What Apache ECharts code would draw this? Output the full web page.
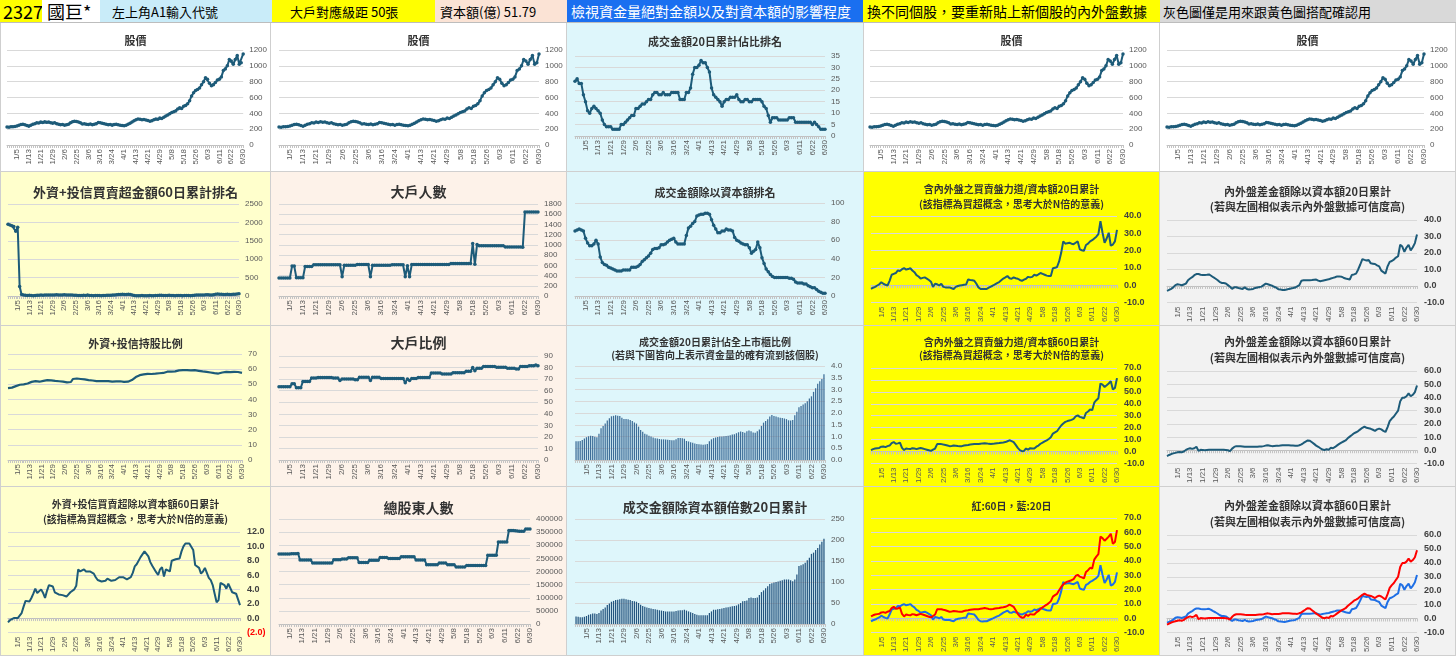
<!DOCTYPE html>
<html><head><meta charset="utf-8">
<script src="https://cdn.jsdelivr.net/npm/echarts@6.0.0/dist/echarts.min.js"></script>
<style>
body{margin:0;width:1456px;height:656px;overflow:hidden;background:#fff;position:relative;font-family:"Noto Sans CJK TC",sans-serif}
.h{position:absolute;top:0;height:23px;line-height:23px;white-space:nowrap;overflow:hidden;box-sizing:border-box;border-bottom:1px solid #bdbdbd}
.p{position:absolute;box-sizing:border-box;border-right:1px solid #cfcfcf;border-bottom:1px solid #cfcfcf}
</style></head><body>
<script>
const dates = ("12/26 12/29 12/30 12/31 1/2 1/5 1/6 1/7 1/8 1/9 1/12 1/13 1/14 1/15 1/16 1/19 1/20 1/21 1/22 1/23 1/26 1/27 1/28 1/29 1/30 " +
"2/2 2/3 2/4 2/5 2/6 2/9 2/10 2/11 2/23 2/24 2/25 2/26 3/2 3/3 3/4 3/5 3/6 3/9 3/10 3/11 3/12 3/13 3/16 3/17 3/18 3/19 3/20 3/23 3/24 " +
"3/25 3/26 3/27 3/30 3/31 4/1 4/2 4/7 4/8 4/9 4/10 4/13 4/14 4/15 4/16 4/17 4/20 4/21 4/22 4/23 4/24 4/27 4/28 4/29 4/30 5/4 5/5 5/6 5/7 5/8 " +
"5/11 5/12 5/13 5/14 5/15 5/18 5/19 5/20 5/21 5/22 5/25 5/26 5/27 5/28 5/29 6/1 6/2 6/3 6/4 6/5 6/8 6/9 6/10 6/11 6/12 6/15 6/16 6/17 6/18 " +
"6/22 6/23 6/24 6/25 6/26 6/29 6/30").split(' ');

// 股價
const price = [228,225,232,230,235,
240,250,258,262,255,245, 238,250,262,270,282,278, 290,285,295,288,292,280, 275,282,270,262,255,258,
250,255,262,280,295,300, 298,290,280,265,270,262, 258,265,255,262,270,285, 280,275,268,262,255,258,
250,258,262,255,250,245, 242,250,262,275,290,305, 320,330,325,318,322,315, 310,300,305,318,330,325,
340,335,350,365,380,395, 410,420,430,455,470,460, 490,500,520,560,620,660, 690,700,720,760,800,850,
830,780,750,760,790,820, 830,860,940,960,1000,1080, 1060,1020,1080,1130,1020,1040, 1150];
// 成交金額20日累計佔比排名
const rank20 = [24,25,23,23,18,
15,11,10,12,13,12, 11,10,7,5,4,4, 4,3,3,3,3,5, 5,6,7,8,9,9,
12,12,13,14,14,15, 16,16,18,19,19,18, 18,19,18,18,18,19, 19,19,19,16,16,16,
19,19,21,27,30,30, 31,33,32,32,30,28, 21,18,17,16,15,13, 15,16,16,17,17,17,
18,16,15,15,16,16, 15,15,16,16,16,16, 15,13,12,9,6,8, 8,8,7,7,7,7,
7,8,8,8,6,6, 6,6,6,6,6,6, 5,6,5,4,3,3, 3];
// 外資+投信買賣超金額60日累計排名
const rank60 = [1950,1930,1910,1890,1760,
1870,260,40,25,20,15, 20,15,10,12,18,20, 25,22,28,30,25,28, 30,28,32,30,28,30,
32,30,28,30,25,22, 18,15,12,15,18,15, 30,15,12,10,12,15, 12,10,12,15,18,20,
22,25,28,35,40,42, 45,42,40,45,38,30, 15,10,8,10,12,10, 8,10,12,10,8,12,
15,18,20,15,12,15, 18,15,12,10,12,15, 12,10,12,15,12,10, 15,20,25,30,28,25,
30,35,32,28,30,35, 45,55,50,45,40,42, 45,40,42,45,50,55, 60];
// 大戶人數
const bigCount = [350,352,352,352,352,
352,585,585,355,355,355, 355,575,575,578,578,612, 612,612,612,612,612,612, 612,612,612,612,612,612,
378,600,600,600,600,600, 600,615,615,615,615,615, 615,378,600,600,600,600, 600,600,600,600,600,612,
612,612,612,612,612,378, 590,378,615,615,615,615, 615,615,615,615,615,615, 615,615,615,615,615,615,
615,615,635,635,635,635, 635,635,635,635,635,635, 1025,620,1010,985,985,985, 985,985,985,985,985,985,
985,985,985,960,960,960, 960,960,960,960,960,955, 1645,1645,1645,1645,1645,1645, 1645];
// 成交金額除以資本額排名
const capRank = [70,71,72,71,70,
62,57,54,54,56,60, 56,42,36,34,33,31, 30,29,28,27,27,27, 28,28,28,28,31,31,
31,32,34,37,39,41, 43,46,50,51,51,52, 55,55,56,58,60,61, 62,58,56,56,56,56,
65,73,75,78,80,86, 87,88,88,89,89,88, 82,76,72,68,68,70, 70,72,71,71,70,63,
60,59,57,56,55,55, 52,46,48,50,58,52, 41,35,29,26,23,21, 20,20,20,20,20,20,
20,19,19,18,15,14, 14,14,13,13,11,10, 9,9,7,5,4,3, 3];
// 含內外盤之買賣盤力道/資本額20日累計
const force20 = [-2.2,-1.5,-1.0,-0.2,0.5,
1.7,0.8,0.2,-0.2,2.5,6.0, 6.5,7.0,8.5,8.2,9.2,9.8, 9.0,9.3,9.8,8.5,7.5,5.8, 5.0,3.8,4.2,4.5,3.8,3.0,
2.0,-1.0,0.8,0.5,-0.2,0.8, -1.0,-1.3,-1.3,-1.3,-1.8,-2.2, -1.0,-0.5,-0.2,0.0,0.2,0.3, 3.3,3.0,2.8,2.5,0.8,-1.3,
-2.2,-2.3,-2.2,-2.2,-1.5,-0.8, -0.2,0.5,1.2,1.8,2.8,3.8, 4.5,5.3,4.0,3.7,4.5,4.0, 3.7,3.0,2.5,3.2,3.7,4.8,
4.5,4.8,6.0,5.5,6.2,7.0, 6.5,6.0,5.5,5.3,5.3,9.8, 10.0,10.5,13.7,18.7,25.3,24.0, 24.3,24.5,24.0,23.7,24.5,25.3,
20.7,20.2,19.8,23.2,24.0,25.3, 26.0,27.0,28.0,29.5,37.0,30.3, 24.5,27.0,30.3,22.8,23.5,25.3, 32.0];
// 內外盤差金額除以資本額20日累計
const diff20 = [-3.0,-2.4,-1.8,-0.8,0.5,
1.0,0.8,0.4,0.9,1.4,3.5, 4.5,5.3,6.5,7.2,7.2,6.8, 6.7,6.7,6.8,7.0,6.2,5.3, 4.5,3.6,2.5,1.8,1.8,1.5,
0.5,-0.5,-1.8,-0.8,-0.8,-1.2, -1.5,-1.8,-0.9,-1.8,-2.1,-2.0, -1.8,-1.2,-0.9,-0.7,-0.4,0.5, 1.4,1.0,0.6,0.2,-0.5,-1.0,
-2.0,-2.2,-2.4,-2.5,-2.2,-1.8, -1.5,-1.3,-1.0,-0.2,0.5,3.2, 3.4,3.5,3.5,3.5,3.6,3.8, 3.9,3.2,2.8,3.2,3.5,3.8,
4.0,4.5,4.9,5.3,5.8,5.8, 5.6,5.0,4.5,4.2,3.9,6.7, 7.0,7.5,10.0,13.0,16.3,15.8, 15.4,15.8,13.7,13.5,13.3,12.5,
11.9,9.3,8.4,7.5,11.9,14.6, 15.1,16.0,17.2,18.0,25.0,23.9, 20.7,23.3,25.0,21.6,23.5,26.0, 31.2];
// 外資+投信持股比例
const holdPct = [47.5,47.5,47.8,48.3,48.8,
49.3,49.7,49.9,49.9,49.9,50.5, 51.2,51.6,51.8,52.1,52.0,51.7, 51.6,52.2,52.7,52.7,52.7,52.6, 52.4,52.2,52.1,52.0,51.9,51.8,
51.6,51.3,50.9,51.5,53.5,53.8, 53.8,53.7,53.5,53.3,53.2,53.0, 52.8,52.7,52.5,52.3,52.1,52.1, 52.1,52.0,52.1,52.1,52.1,52.0,
51.7,51.6,51.9,52.1,52.0,51.8, 51.6,51.6,51.7,52.2,52.8,54.0, 54.8,55.5,56.0,56.3,56.5,56.6, 56.9,56.8,56.8,56.9,57.0,57.1,
57.3,57.4,57.5,57.8,58.3,58.6, 58.4,58.2,58.5,59.0,59.2,59.3, 59.3,59.3,59.3,59.3,59.2,59.2, 59.3,59.1,58.9,58.6,58.5,58.3,
58.2,58.0,57.8,57.6,57.4,57.2, 57.1,57.3,57.8,58.1,58.2,58.1, 58.0,58.2,58.2,58.0,58.1,57.9, 57.5];
// 大戶比例
const bigPct = [63.3,63.3,63.3,63.3,63.3,
63.3,66,66,62.5,62.5,62.5, 68,68,68,68,71,71, 71,71.5,71.5,71.5,71.5,71.5, 71.5,71.5,71,71,71,68.8,
70.2,70.2,70.2,70.2,70.2,70.2, 69.4,69.4,71.6,71.6,71.6,71.6, 71.6,68.8,71.6,71.6,71.6,71.6, 70.5,70.5,70.5,70.5,70.5,70.5,
70.5,70.5,70.5,70.5,70.5,66.8, 70.2,68.8,70.5,70.5,70.5,71.3, 71.3,71.3,71.3,71.3,71.3,75.3, 75.3,75.3,75.3,75.3,74.5,74.5,
74.5,74.5,74.5,75.5,75.5,75.5, 75.5,75.5,75.5,76.7,76.7,76.7, 80,77.2,79.5,79.5,79.5,81, 81,81,81,81,81,80.3,
80.3,80.3,80.3,80.3,79.5,79.5, 79.5,79.5,78.7,78.7,81,81, 81,81,81.5,81.5,81.5,82.2, 81.5];
// 成交金額20日累計佔全上市櫃比例
const share20 = [0.80,0.80,0.81,0.85,0.92,
0.97,1.01,1.03,1.02,0.99,0.97, 1.12,1.35,1.45,1.55,1.68,1.78, 1.86,1.88,1.90,1.88,1.87,1.80, 1.75,1.74,1.73,1.70,1.66,1.60,
1.55,1.42,1.28,1.20,1.12,1.08, 1.03,1.00,0.96,0.93,0.91,0.89, 0.88,0.88,0.87,0.86,0.85,0.84, 0.84,0.88,0.94,0.94,0.93,0.90,
0.81,0.79,0.76,0.73,0.70,0.68, 0.67,0.66,0.65,0.66,0.68,0.80, 0.88,0.93,0.96,0.98,1.00,1.00, 1.01,1.02,1.03,1.05,1.08,1.10,
1.14,1.18,1.21,1.19,1.16,1.22, 1.26,1.22,1.17,1.16,1.22,1.30, 1.45,1.59,1.66,1.73,1.85,1.91, 1.87,1.85,1.82,1.80,1.79,1.77,
1.74,1.69,1.68,1.70,1.90,2.05, 2.25,2.30,2.36,2.42,2.50,2.62, 2.71,2.90,3.05,3.25,3.35,3.45, 3.65];
// 含內外盤之買賣盤力道/資本額60日累計
const force60 = [1.2,2.0,2.5,2.8,3.0,
4.0,4.2,3.7,4.5,5.0,7.0, 7.9,6.5,6.8,7.4,3.0,1.2, 2.5,2.2,2.0,2.8,2.5,2.0, 2.5,3.0,2.5,2.0,1.5,1.0,
0.5,1.5,2.5,6.2,6.2,6.2, 5.8,5.5,5.0,4.5,4.7,5.0, 4.8,4.6,4.5,4.5,5.0,5.3, 5.5,5.8,6.0,6.2,6.2,6.2,
6.5,6.8,7.0,6.8,6.4,6.2, 6.4,6.7,6.9,7.1,7.4,7.6, 7.9,8.6,9.4,8.7,7.9,5.5, 3.0,1.2,0.3,0.5,2.5,1.5,
2.8,2.6,2.5,4.0,5.0,6.5, 7.5,8.5,9.4,10.5,11.9,15.0, 16.1,17.0,19.5,21.8,23.5,24.8, 25.5,26.0,26.5,27.3,29.5,30.3,
29.0,28.5,27.8,32.3,33.5,35.2, 34.7,40.9,43.0,44.7,57.0,56.0, 54.1,55.5,57.0,59.0,52.0,53.3, 61.5];
// 內外盤差金額除以資本額60日累計
const diff60 = [-4.4,-3.6,-2.9,-2.4,-2.0,
-1.6,-1.3,-1.6,-1.0,0.2,1.0, 1.5,1.0,1.5,2.6,-0.5,0.3, 0.2,0.0,0.2,0.4,0.4,0.3, 0.4,0.4,0.4,0.4,0.3,0.2,
0.0,-0.7,1.2,2.5,3.1,3.1, 3.0,2.9,2.7,2.6,2.6,2.6, 2.6,2.6,2.7,2.8,2.9,3.1, 3.5,3.7,3.4,3.1,3.2,3.3,
3.3,3.5,3.7,3.7,3.7,3.7, 3.6,3.5,3.4,3.3,3.8,4.4, 5.5,6.5,7.4,7.2,6.0,4.8, 3.5,2.6,1.5,0.5,0.2,0.8,
0.4,1.8,1.5,2.5,3.7,4.8, 5.8,6.6,7.4,9.0,10.3,11.5, 12.8,13.6,14.5,15.8,17.0,17.9, 17.0,16.6,16.2,15.5,14.7,15.8,
16.4,15.8,14.7,13.8,17.5,22.0, 24.0,25.5,27.8,30.0,37.0,39.8, 39.8,40.9,43.1,40.9,42.0,44.0, 49.0];
// 外資+投信買賣超除以資本額60日累計
const inst60 = [-0.6,-0.3,-0.1,0.0,0.0,
0.0,0.2,0.7,1.6,2.4,2.4, 2.3,2.8,3.4,4.1,3.5,3.6, 4.0,3.5,2.8,3.8,4.6,4.5, 4.4,3.6,3.8,3.3,3.3,3.2,
3.1,3.0,3.0,3.6,3.8,4.0, 4.5,6.8,6.5,6.7,6.8,6.5, 6.4,6.5,6.4,6.2,5.7,5.3, 5.1,5.1,5.1,5.2,5.5,5.4,
5.2,5.1,5.3,5.5,5.7,5.8, 5.7,5.6,5.4,5.3,5.7,6.3, 7.2,7.5,7.6,8.5,8.3,9.3, 9.1,8.6,7.8,7.3,7.1,6.4,
6.0,6.8,7.1,5.8,6.8,7.0, 6.5,8.0,8.2,8.2,8.2,8.3, 9.3,10.0,10.4,10.5,10.4,10.2, 9.5,7.4,7.2,7.0,6.2,6.5,
7.0,6.9,5.6,5.3,4.6,3.4, 2.2,2.5,4.9,5.0,4.6,4.1, 4.8,4.7,3.6,3.6,3.4,2.6, 1.8];
// 總股東人數
const holders = [267000,267000,267000,267000,267000,
267000,268000,268000,268000,269000,244000, 244000,244000,244000,244000,244000,232000, 232000,232000,232000,232000,232000,232000, 232000,232000,232000,245000,245000,245000,
245000,248000,248000,248000,252000,252000, 252000,252000,252000,234000,234000,234000, 234000,234000,243000,243000,243000,243000, 243000,253000,253000,253000,253000,250000,
250000,250000,250000,250000,250000,256000, 256000,256000,256000,256000,256000,256000, 244000,244000,244000,244000,244000,226000, 226000,226000,226000,226000,226000,232000,
232000,232000,232000,226000,226000,226000, 226000,217000,217000,217000,217000,217000, 223000,223000,223000,223000,223000,223000, 223000,223000,223000,223000,262000,262000,
262000,262000,262000,312000,312000,312000, 312000,312000,356000,356000,356000,355000, 354000,353000,353000,353000,362000,362000, 362000];
// 成交金額除資本額倍數20日累計
const turn20 = [18,17,16,16,17,
19,22,23,25,25,24, 26,32,36,39,45,49, 53,55,57,58,59,60, 60,59,58,57,55,54,
53,50,46,43,41,39, 38,37,36,35,34,33, 32,31,30,30,30,30, 30,31,32,33,33,34,
32,30,28,26,24,22, 21,21,21,21,21,26, 30,34,34,35,36,37, 38,39,40,41,42,43,
44,47,50,54,55,56, 62,63,62,62,63,69, 76,80,85,90,95,97, 99,100,101,103,104,106,
106,106,104,102,106,118, 138,140,142,146,152,158, 167,170,176,181,189,196, 203];

const headerCells = [
  {x:0,w:42,bg:'#ffff00',t:'2327',fs:18,pl:3,c:'#000'},
  {x:42,w:58,bg:'#ffffff',t:'國巨*',fs:18,pl:5,c:'#000'},
  {x:100,w:172,bg:'#c9ecf9',t:'左上角A1輸入代號',fs:13,pl:12,c:'#000'},
  {x:272,w:163,bg:'#ffff00',t:'大戶對應級距  50張',fs:13,pl:18,c:'#000'},
  {x:435,w:132,bg:'#fbe3d5',t:'資本額(億)  51.79',fs:13,pl:5,c:'#000'},
  {x:567,w:296,bg:'#1a6ff0',t:'檢視資金量絕對金額以及對資本額的影響程度',fs:14,pl:4,c:'#fff'},
  {x:863,w:297,bg:'#ffff00',t:'換不同個股，要重新貼上新個股的內外盤數據',fs:14,pl:4,c:'#000'},
  {x:1160,w:296,bg:'#d9d9d9',t:'灰色圖僅是用來跟黃色圖搭配確認用',fs:13,pl:3,c:'#000'}
];
headerCells.forEach(h=>{
  const d=document.createElement('div');d.className='h';
  d.style.cssText+=`left:${h.x}px;width:${h.w}px;background:${h.bg};font-size:${h.fs}px;padding-left:${h.pl}px;color:${h.c}`;
  d.textContent=h.t;document.body.appendChild(d);
});

const COLS=[[0,271],[271,567],[567,864],[864,1160],[1160,1456]];
const ROWS=[[23,172],[172,326],[326,487],[487,656]];
const BG=[['#ffffff','#ffffff','#def6fb','#ffffff','#ffffff'],
          ['#ffffcc','#fdf2e9','#def6fb','#ffff00','#f2f2f2'],
          ['#ffffcc','#fdf2e9','#def6fb','#ffff00','#f2f2f2'],
          ['#ffffcc','#fdf2e9','#def6fb','#ffff00','#f2f2f2']];
const LC='#1d5b79', RED='#ff0000', BLUE='#1f6fe5';
const mk=(d,w,c)=>({type:'line',data:d,color:c||LC,w:w||2,sym:true});
const ln=(d,w,c)=>({type:'line',data:d,color:c||LC,w:w||2,sym:false});
const br=(d,c)=>({type:'bar',data:d,color:c});
const T_P='股價';
const panels=[
 {r:0,c:0,title:T_P,ts:11,tt:5,g:[6,26,27,26],y:[0,1200,200],s:[mk(price)]},
 {r:0,c:1,title:T_P,ts:11,tt:5,g:[8,27,27,26],y:[0,1200,200],s:[mk(price)]},
 {r:0,c:2,title:'成交金額20日累計佔比排名',ts:11,tt:6,g:[8,38,33,35],y:[0,35,5],s:[mk(rank20)]},
 {r:0,c:3,title:T_P,ts:11,tt:5,g:[6,36,27,26],y:[0,1200,200],s:[mk(price)]},
 {r:0,c:4,title:T_P,ts:11,tt:5,g:[7,31,27,26],y:[0,1200,200],s:[mk(price)]},
 {r:1,c:0,title:'外資+投信買賣超金額60日累計排名',ts:13,tt:7,g:[7,31,32,29],y:[0,2500,500],s:[mk(rank60)]},
 {r:1,c:1,title:'大戶人數',ts:14,tt:6,g:[8,28,32,29],y:[0,1800,200],s:[mk(bigCount)]},
 {r:1,c:2,title:'成交金額除以資本額排名',ts:11,tt:8,g:[8,38,31,29],y:[0,100,20],s:[mk(capRank)]},
 {r:1,c:3,title:'含內外盤之買賣盤力道/資本額20日累計\n(該指標為買超概念，思考大於N倍的意義)',ts:10,lh:15,tt:5,g:[7,42,44,10],y:[-10,40,10],fmt:'b1',s:[ln(force20,2)]},
 {r:1,c:4,title:'內外盤差金額除以資本額20日累計\n(若與左圖相似表示內外盤數據可信度高)',ts:11,lh:15,tt:7,g:[7,38,48,11],y:[-10,40,10],fmt:'b1',s:[ln(diff20,2)]},
 {r:2,c:0,title:'外資+投信持股比例',ts:11,tt:5,g:[7,28,28,26],y:[0,70,10],s:[ln(holdPct,2.2)]},
 {r:2,c:1,title:'大戶比例',ts:14,tt:3,g:[8,28,30,26],y:[0,90,10],s:[mk(bigPct)]},
 {r:2,c:2,title:'成交金額20日累計佔全上市櫃比例\n(若與下圖皆向上表示資金量的確有流到該個股)',ts:10,lh:13,tt:5,g:[8,38,40,26],y:[0,4,0.5],fmt:'f1',s:[br(share20,'#3d6d98')]},
 {r:2,c:3,title:'含內外盤之買賣盤力道/資本額60日累計\n(該指標為買超概念，思考大於N倍的意義)',ts:10,lh:13,tt:5,g:[7,42,42,12],y:[-10,70,10],fmt:'b1',s:[ln(force60,2)]},
 {r:2,c:4,title:'內外盤差金額除以資本額60日累計\n(若與左圖相似表示內外盤數據可信度高)',ts:11,lh:16,tt:3,g:[7,38,45,9],y:[-10,60,10],fmt:'b1',s:[ln(diff60,2)]},
 {r:3,c:0,title:'外資+投信買賣超除以資本額60日累計\n(該指標為買超概念，思考大於N倍的意義)',ts:10,lh:15,tt:5,g:[7,30,45,13],y:[-2,12,2],fmt:'paren',s:[ln(inst60,2)]},
 {r:3,c:1,title:'總股東人數',ts:14,tt:7,g:[8,36,32,31],y:[0,400000,50000],s:[mk(holders)]},
 {r:3,c:2,title:'成交金額除資本額倍數20日累計',ts:13,tt:7,g:[8,38,32,31],y:[0,250,50],s:[br(turn20,'#24557f')]},
 {r:3,c:3,title:'紅:60日，藍:20日',ts:10,tt:7,g:[7,42,31,14],y:[-10,70,10],fmt:'b1',s:[ln(force20,2,BLUE),ln(force60,2,RED)]},
 {r:3,c:4,title:'內外盤差金額除以資本額60日累計\n(若與左圖相似表示內外盤數據可信度高)',ts:11,lh:16,tt:6,g:[7,38,48,14],y:[-10,60,10],fmt:'b1',s:[ln(diff20,2,BLUE),ln(diff60,2,RED)]}
];

function yLabel(fmt){
  const base={fontSize:8,color:'#595959',margin:6,fontFamily:'Liberation Sans',formatter:v=>String(v)};
  if(fmt==='b1') return {fontSize:9,color:'#404040',fontWeight:'bold',margin:7,fontFamily:'Liberation Sans',formatter:v=>v.toFixed(1)};
  if(fmt==='f1') return Object.assign(base,{formatter:v=>v.toFixed(1)});
  if(fmt==='paren') return {margin:7,fontFamily:'Liberation Sans',formatter:v=>v<0?'{r|('+(-v).toFixed(1)+')}':'{b|'+v.toFixed(1)+'}',
     rich:{r:{color:'#ff0000',fontWeight:'bold',fontSize:9,fontFamily:'Liberation Sans'},b:{color:'#404040',fontWeight:'bold',fontSize:9,fontFamily:'Liberation Sans'}}};
  return base;
}

panels.forEach(p=>{
  const [x0,x1]=COLS[p.c],[y0,y1]=ROWS[p.r];
  const el=document.createElement('div');el.className='p';
  el.style.cssText+=`left:${x0}px;top:${y0}px;width:${x1-x0}px;height:${y1-y0}px;background:${BG[p.r][p.c]}`;
  if(p.c===0) el.style.borderLeft='1px solid #cfcfcf';
  document.body.appendChild(el);
  const ch=echarts.init(el,null,{renderer:'canvas'});
  const isBar=p.s.some(s=>s.type==='bar');
  ch.setOption({
    animation:false,
    title:{text:p.title,left:'center',top:p.tt,textStyle:{fontSize:p.ts,fontWeight:'bold',color:'#333333',lineHeight:p.lh||(p.ts+4),fontFamily:'Noto Sans CJK TC'}},
    grid:{left:p.g[0],right:p.g[1],top:p.g[2],bottom:p.g[3]},
    xAxis:{type:'category',data:dates,boundaryGap:isBar,
      axisLine:{onZero:true,lineStyle:{color:'#bfbfbf',width:1}},
      axisTick:{show:true,interval:0,length:3,lineStyle:{color:'#c4c4c4'}},
      axisLabel:{interval:(i)=>i%6===5,rotate:90,fontSize:8,color:'#595959',margin:4,fontFamily:'Liberation Sans'}},
    yAxis:{type:'value',position:'right',min:p.y[0],max:p.y[1],interval:p.y[2],
      splitLine:{lineStyle:{color:'#d9d9d9',width:1}},axisLine:{show:false},axisTick:{show:false},
      axisLabel:yLabel(p.fmt)},
    series:p.s.map(s=>s.type==='bar'?
      {type:'bar',data:s.data,barCategoryGap:'40%',itemStyle:{color:s.color},silent:true}:
      {type:'line',data:s.data,lineStyle:{color:s.color,width:s.w},itemStyle:{color:s.color},
       showSymbol:s.sym,showAllSymbol:true,symbol:'circle',symbolSize:3.5,silent:true})
  });
});
</script>
</body></html>
